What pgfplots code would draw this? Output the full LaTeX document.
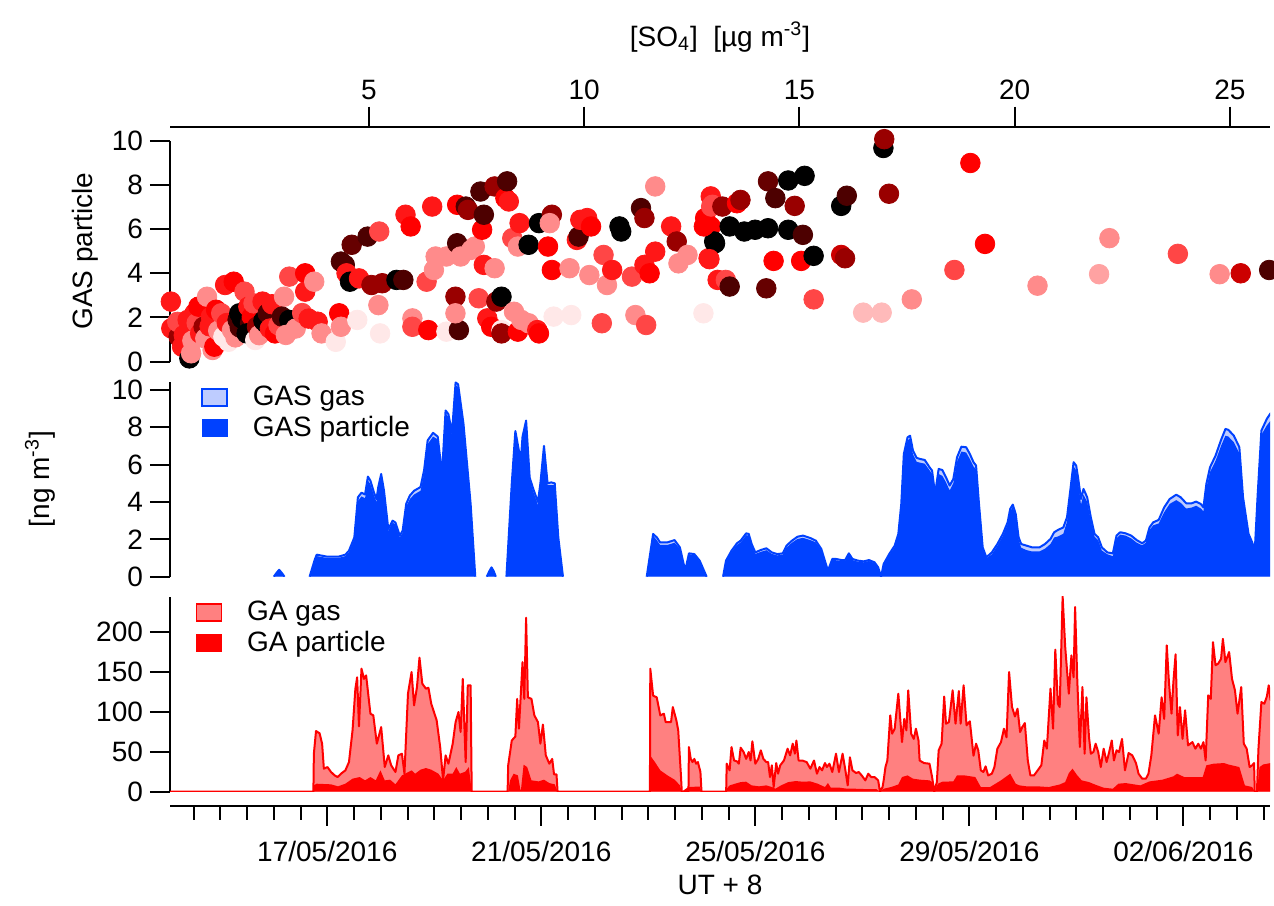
\documentclass[border=0pt]{standalone}
\usepackage{fontspec}
\setmainfont{Liberation Sans}
\usepackage{pgfplots}
\pgfplotsset{compat=1.18}
\usepackage{pgfplotstable}

\definecolor{gasblue}{RGB}{0,65,255}
\definecolor{gaslightblue}{RGB}{190,204,255}
\definecolor{galight}{RGB}{255,128,128}

\pgfplotsset{
  panel/.style={scale only axis, width=550pt, axis x line=none, axis y line*=left,
    xmin=0.06, xmax=20.62, tick align=outside, major tick length=10pt,
    every tick/.style={black, line width=1pt}, axis line style={black, line width=1pt},
    ticklabel style={font=\fontsize{14}{16}\selectfont},
    label style={font=\fontsize{14}{16}\selectfont},
    /pgf/number format/assume math mode=true},
  mylegend/.style={legend style={draw=none, fill=none, font=\fontsize{14}{16}\selectfont,
    legend cell align=left, row sep=0pt}},
  gasseg/.style={fill=gaslightblue, draw=none, forget plot},
  partseg/.style={fill=gasblue, draw=none, forget plot},
  lineseg/.style={gasblue, line width=1pt, line join=round, forget plot},
}

% ---------- GAS segments: d  total  particle ----------
\pgfplotstableread{
d t p
2.00 0 0
2.05 0.20 0.18
2.10 0.37 0.34
2.15 0.20 0.18
2.20 0 0
}\gasA
\pgfplotstableread{
d t p
2.669 0 0
2.77 0.95 0.90
2.803 1.18 1.10
3.003 1.07 1.00
3.204 1.07 1.00
3.338 1.18 1.10
3.405 1.39 1.30
3.505 2.10 2.00
3.572 4.25 4.05
3.639 4.50 4.30
3.706 4.40 4.20
3.759 5.36 5.15
3.806 5.14 4.95
3.873 4.50 4.35
3.920 4.16 4.00
3.953 4.80 4.65
4.007 5.50 5.35
4.060 4.60 4.45
4.140 2.55 2.45
4.221 3.00 2.90
4.274 2.90 2.80
4.354 2.20 2.10
4.408 2.46 2.35
4.475 3.90 3.75
4.542 4.34 4.15
4.622 4.60 4.40
4.743 4.80 4.60
4.809 5.70 5.50
4.876 7.30 7.10
4.977 7.70 7.50
5.064 7.50 7.35
5.144 5.50 5.40
5.211 8.90 8.75
5.264 8.70 8.55
5.331 7.70 7.60
5.398 10.40 10.25
5.445 10.30 10.15
5.545 8.20 8.10
5.679 3.90 3.85
5.766 0 0
}\gasB
\pgfplotstableread{
d t p
5.98 0 0
6.03 0.30 0.27
6.07 0.50 0.45
6.11 0.30 0.27
6.15 0 0
}\gasC
\pgfplotstableread{
d t p
6.348 0 0
6.448 5.00 4.90
6.515 7.80 7.70
6.616 6.20 6.10
6.649 7.50 7.40
6.716 8.36 8.25
6.783 5.30 5.20
6.850 4.70 4.55
6.937 4.00 3.85
6.983 5.00 4.85
7.050 7.00 6.90
7.117 5.00 4.90
7.184 5.05 4.90
7.251 5.00 4.90
7.318 2.10 2.05
7.405 0 0
}\gasD
\pgfplotstableread{
d t p
8.97 0 0
9.09 2.29 2.20
9.16 2.10 1.95
9.22 1.84 1.70
9.36 1.84 1.70
9.49 1.96 1.82
9.59 1.57 1.50
9.69 0.32 0.30
9.76 1.25 1.20
9.86 1.21 1.15
9.96 0.86 0.82
10.09 0 0
}\gasE
\pgfplotstableread{
d t p
10.397 0 0
10.452 0.86 0.82
10.555 1.39 1.33
10.657 1.79 1.70
10.726 1.93 1.84
10.829 2.32 2.22
10.877 2.29 2.20
10.932 1.75 1.67
11.000 1.30 1.22
11.103 1.43 1.33
11.206 1.52 1.42
11.309 1.30 1.22
11.411 1.21 1.14
11.514 1.25 1.18
11.583 1.66 1.56
11.685 1.93 1.82
11.788 2.14 2.02
11.891 2.20 2.08
12.028 2.07 1.96
12.131 1.93 1.84
12.234 1.48 1.42
12.357 0.32 0.30
12.439 0.95 0.90
12.508 0.95 0.88
12.611 0.89 0.84
12.679 0.89 0.84
12.748 1.25 1.18
12.816 0.95 0.89
12.919 0.86 0.80
13.022 0.82 0.77
13.125 0.89 0.84
13.228 0.77 0.73
13.296 0.50 0.48
13.351 0 0
13.399 0.68 0.65
13.502 1.21 1.15
13.605 1.66 1.58
13.673 2.29 2.20
13.728 3.90 3.80
13.776 6.57 6.45
13.845 7.46 7.30
13.892 7.55 7.40
13.947 6.75 6.55
14.016 6.36 6.15
14.084 6.30 6.10
14.167 6.25 6.05
14.256 5.86 5.70
14.304 5.68 5.50
14.359 4.43 4.35
14.427 5.77 5.50
14.496 5.71 5.40
14.564 5.32 5.05
14.633 4.88 4.62
14.701 5.23 5.00
14.770 6.39 6.15
14.852 6.96 6.70
14.941 6.93 6.65
15.010 6.57 6.30
15.078 6.13 5.90
15.126 5.95 5.75
15.181 3.89 3.80
15.250 1.57 1.50
15.318 1.04 0.98
15.421 1.30 1.20
15.524 1.75 1.65
15.627 2.29 2.18
15.716 2.91 2.80
15.764 3.63 3.50
15.812 3.86 3.72
15.867 3.36 3.25
15.921 2.11 2.00
15.969 1.75 1.55
16.072 1.66 1.42
16.175 1.57 1.35
16.312 1.57 1.35
16.415 1.75 1.50
16.517 2.02 1.75
16.586 2.38 2.10
16.655 2.50 2.15
16.757 2.64 2.30
16.826 3.18 2.95
16.894 4.79 4.60
16.949 6.13 5.90
16.997 5.95 5.70
17.032 5.32 5.10
17.087 4.16 3.85
17.134 4.70 4.40
17.203 4.25 4.00
17.271 3.18 3.00
17.340 2.29 2.15
17.408 2.11 1.95
17.477 1.57 1.40
17.580 1.30 1.20
17.683 1.25 1.10
17.751 2.20 2.05
17.820 2.38 2.25
17.923 2.32 2.20
18.026 2.20 2.05
18.128 1.96 1.82
18.231 1.79 1.68
18.300 1.93 1.82
18.368 2.64 2.50
18.437 2.91 2.75
18.539 3.04 2.85
18.642 3.71 3.45
18.745 4.16 3.90
18.868 4.39 4.10
18.951 4.25 3.95
19.054 3.93 3.65
19.156 3.93 3.70
19.239 4.02 3.80
19.328 3.89 3.65
19.376 3.71 3.50
19.430 4.96 4.75
19.499 5.86 5.60
19.602 6.48 6.20
19.705 7.32 7.00
19.787 7.91 7.55
19.842 7.86 7.50
19.944 7.55 7.20
20.047 6.93 6.60
20.116 4.25 4.10
20.219 2.29 2.20
20.287 1.84 1.76
20.335 1.39 1.35
20.390 4.43 4.30
20.459 7.82 7.60
20.561 8.45 8.10
20.630 8.75 8.35
20.698 8.75 8.30
}\gasF

% ---------- GA gas ----------
\pgfplotstableread{
d v
0.06 0
2.740 0
2.749 47.5
2.789 75.8
2.856 73
2.903 60
2.936 28.8
3.003 30.8
3.070 24.6
3.137 20.4
3.191 18.3
3.271 23.3
3.338 26.7
3.405 37
3.472 76.7
3.525 128.8
3.558 143
3.592 81.7
3.639 153.8
3.686 141
3.726 145.4
3.806 97.5
3.860 95.4
3.926 60
4.007 80.8
4.074 30.8
4.140 45.4
4.194 32.9
4.274 24.6
4.328 45.4
4.395 47.5
4.442 22.5
4.508 122.5
4.575 149.6
4.622 107.9
4.676 130.8
4.723 167.5
4.776 135
4.843 128.8
4.890 130
4.943 110
5.044 89.2
5.110 55.8
5.164 14.2
5.211 45.4
5.264 35
5.344 60
5.398 87
5.452 99.6
5.492 74.6
5.532 141
5.586 37
5.626 132.9
5.679 132.9
5.699 0
6.370 0
6.381 32.9
6.448 64
6.515 69
6.549 116
6.582 78.8
6.649 162
6.682 116
6.716 217.5
6.749 118
6.816 116
6.870 95.4
6.937 87
6.983 60
7.030 84
7.084 45.4
7.150 35
7.204 41
7.238 21.7
7.284 21.7
7.304 0
9.030 0
9.037 153.75
9.090 120
9.157 118
9.224 95.4
9.291 97.5
9.324 87
9.425 87
9.458 105.8
9.525 89
9.559 76.7
9.612 18
9.625 0
9.750 0
9.759 55.8
9.793 41
9.826 37
9.860 41
9.893 35
9.927 37
9.974 24.6
9.994 0
10.455 0
10.465 35
10.520 26.7
10.555 55.8
10.603 39
10.657 37.9
10.692 35
10.726 55
10.781 49.6
10.829 41
10.877 49.6
10.911 39
10.945 63
11.000 35
11.055 41
11.103 51.7
11.151 41
11.206 37
11.240 37
11.274 18.3
11.309 33
11.343 5.8
11.391 35.8
11.425 22.5
11.466 33
11.535 39
11.603 53.75
11.651 45.4
11.699 60
11.740 47.5
11.768 64
11.809 39
11.877 39
11.960 37
12.028 28.75
12.097 39
12.152 22.5
12.200 30.8
12.248 26.7
12.302 35.8
12.337 30.8
12.385 35
12.439 24.6
12.508 47.5
12.563 24.6
12.631 47.5
12.679 28.75
12.727 7.9
12.768 43
12.816 26.7
12.885 23.3
12.933 24.6
12.988 20.4
13.056 14.2
13.111 22.5
13.166 18.3
13.228 18.3
13.296 14.2
13.330 0
13.378 5.8
13.399 14.2
13.433 31
13.468 39
13.522 95.4
13.557 72.5
13.605 78.75
13.673 122.5
13.742 62
13.783 91
13.824 76.7
13.858 126.7
13.913 72.5
13.961 66
14.002 78.75
14.050 64
14.071 39
14.153 35.8
14.256 35
14.304 18.3
14.345 0
14.393 12
14.427 51.7
14.482 60
14.530 119
14.564 85
14.619 87
14.688 126.7
14.742 85
14.804 125.8
14.838 85
14.893 133
14.948 83
15.010 88
15.078 45
15.126 60
15.167 51.7
15.215 26.7
15.263 24.6
15.304 31.7
15.352 20.4
15.421 22.5
15.469 30.8
15.524 53.75
15.592 62
15.647 78.75
15.695 68
15.743 149.6
15.798 105.8
15.853 94
15.901 103.75
15.949 74.6
15.990 80.8
16.038 85.8
16.093 39
16.141 20.4
16.209 20.4
16.278 26.7
16.346 33
16.401 64
16.449 53.75
16.517 128.75
16.565 78.75
16.607 177.5
16.655 110
16.689 105.8
16.744 244
16.792 181
16.860 122.5
16.908 170.4
16.949 143
16.977 230.8
17.018 139
17.066 55.8
17.114 130.8
17.155 47.5
17.189 118
17.237 68
17.271 47.5
17.319 49.6
17.361 60
17.409 49.6
17.457 30.8
17.511 53.75
17.566 37
17.614 49.6
17.662 64
17.703 39
17.751 51.7
17.799 49.6
17.854 66
17.909 26.7
17.977 48.3
18.046 45.4
18.115 35.8
18.163 22.5
18.231 16.25
18.300 16.25
18.348 22.5
18.402 45.4
18.471 95.4
18.539 72.5
18.594 118
18.642 91
18.690 183
18.731 137
18.779 97.5
18.814 137
18.855 171.7
18.896 70.4
18.937 105.8
18.985 66
19.033 101.7
19.088 57.9
19.170 62
19.225 53.75
19.280 60
19.328 53.75
19.376 62
19.417 39
19.465 120.4
19.513 116
19.554 187
19.602 158
19.650 160
19.705 166
19.739 191
19.787 162
19.856 174.6
19.910 141
19.965 126.7
20.013 97.5
20.082 130.8
20.130 60
20.184 53.75
20.239 30.8
20.287 33
20.322 35.8
20.335 0
20.376 0
20.404 53.75
20.459 112
20.514 110
20.561 119
20.596 133
20.630 114.6
20.664 123
20.700 123
}\gagas

% ---------- GA particle ----------
\pgfplotstableread{
d v
0.06 0
2.740 0
2.749 7.9
2.80 10
3.07 9.2
3.20 6.7
3.338 10
3.472 16.3
3.606 18.3
3.706 14.2
3.806 18.3
3.906 14.2
3.993 26.7
4.074 14.2
4.174 15
4.274 9.2
4.395 20.4
4.475 23.3
4.575 26.7
4.642 22.5
4.743 27.5
4.843 29.6
4.943 27.5
5.077 22.5
5.164 14.2
5.244 22.5
5.344 22.5
5.411 30.8
5.478 22.5
5.579 25
5.646 30.8
5.699 0
6.381 0
6.415 14
6.482 22.5
6.562 20.4
6.616 0
6.669 33.75
6.736 30.8
6.816 14.2
6.950 12.9
7.050 15
7.150 10.8
7.251 9.2
7.304 0
9.030 0
9.037 45
9.124 37
9.224 26.7
9.358 20.4
9.492 15
9.592 7.9
9.625 0
9.746 5.8
9.960 6.5
9.994 0
10.455 0
10.465 3.75
10.520 7.9
10.623 10
10.726 12
10.829 12.5
10.932 7.9
11.069 6.7
11.206 7.9
11.309 5.8
11.377 3.75
11.480 7.9
11.617 12
11.754 13.3
11.891 12.5
12.028 12.9
12.165 10
12.302 5.8
12.357 10.8
12.412 5
12.577 5
12.714 3.75
12.851 3.75
13.056 3.3
13.262 3.3
13.330 0
13.399 3.75
13.536 5.8
13.673 9
13.742 18.3
13.845 20.4
13.947 16.3
14.084 15
14.256 14.2
14.304 12
14.345 0
14.413 10
14.496 12.5
14.701 12.9
14.770 20.4
14.907 20.4
15.112 18.3
15.215 5.8
15.387 5.8
15.592 14.2
15.764 22.5
15.867 10
15.935 7.9
16.072 6.7
16.278 6.7
16.483 5.8
16.689 9
16.792 12
16.860 23.3
16.929 28.75
17.018 20.4
17.100 14.2
17.237 12
17.374 8.3
17.511 5
17.683 3.75
17.786 10
17.923 10.8
18.197 7.9
18.368 12.9
18.608 15
18.814 19.2
18.882 22.5
19.019 18.3
19.191 18.3
19.362 18.3
19.430 33
19.568 35
19.760 35.8
19.842 34
20.047 30.8
20.150 7.9
20.287 5.8
20.335 0
20.376 0
20.424 30.8
20.493 34
20.630 35.8
20.700 35.8
}\gapart

% ---------- scatter: SO4, GAS particle, colour ----------
\pgfplotstableread{
s v c
0.40 2.72 0.45
0.41 1.51 0.45
0.58 1.13 0.7
0.55 1.80 0.35
0.66 0.68 0.45
0.70 1.20 0.45
0.83 0.15 1
0.87 0.38 0.2
0.90 0.95 0.2
0.79 1.89 0.45
0.95 2.19 0.45
1.00 1.75 0.35
1.04 2.49 0.5
1.08 1.28 0.45
1.16 1.58 0.7
1.20 1.05 0.2
1.24 2.94 0.2
1.33 2.04 0.45
1.30 1.60 0.45
1.37 0.53 0.2
1.41 0.68 0.5
1.45 2.35 0.5
1.50 1.40 0.2
1.57 2.19 0.35
1.66 3.47 0.45
1.86 3.62 0.5
1.62 1.13 0
1.70 1.75 0.45
1.74 0.90 0
1.82 1.43 0.2
1.90 1.10 0.2
1.95 1.89 0.85
1.99 2.19 1
2.00 1.55 0.85
2.05 1.95 1
2.11 3.17 0.35
2.20 2.49 0.45
2.24 1.74 0.85
2.28 2.04 0.5
2.32 2.64 0.35
2.16 1.28 1
2.36 0.98 0
2.40 1.58 0.7
2.45 1.20 0.2
2.53 2.72 0.45
2.55 1.85 1
2.61 1.74 1
2.65 2.19 0.85
2.70 1.50 0.45
2.75 2.60 0.45
2.82 1.28 0.5
2.90 1.65 0.35
3.03 2.94 0.2
2.98 2.04 0.85
3.15 1.89 1
3.07 1.21 0.2
3.15 3.85 0.35
3.30 1.50 0.2
3.45 2.20 0.35
3.52 4.00 0.5
3.52 3.17 0.45
3.60 1.95 0.45
3.73 3.62 0.2
3.81 1.81 0.45
3.90 1.28 0.2
4.23 0.90 0
4.31 2.19 0.5
4.35 1.58 0.2
4.35 4.53 0.85
4.44 4.38 0.85
4.48 4.00 0.45
4.56 3.62 1
4.60 5.29 0.8
4.73 1.89 0
4.77 3.77 0.45
4.97 5.66 0.85
5.06 3.47 0.7
5.22 2.56 0.2
5.24 5.89 0.35
5.26 1.28 0
5.31 3.55 0.7
5.64 3.70 1
5.80 3.70 0.85
5.85 6.65 0.45
5.97 6.12 0.5
6.01 1.96 0.2
6.01 1.58 0.35
6.34 3.62 0.35
6.38 1.43 0.5
6.47 7.02 0.45
6.51 4.15 0.2
6.55 4.76 0.2
6.80 1.36 0
6.80 4.76 0.2
7.01 2.94 0.7
7.05 5.36 0.85
7.09 1.43 0.85
7.01 2.19 0.2
7.05 7.10 0.5
7.13 4.76 0.2
7.25 7.02 0.85
7.30 6.87 0.7
7.38 5.06 0.2
7.46 5.21 0.2
7.55 2.87 0.35
7.59 7.70 0.85
7.63 5.97 0.5
7.67 6.65 0.85
7.67 4.38 0.45
7.75 1.96 0.45
7.84 1.58 0.5
7.92 7.93 0.7
7.92 4.23 0.2
7.96 2.72 0.7
8.08 2.94 1
8.08 1.43 0
8.17 7.40 0.5
8.21 8.16 0.85
8.25 7.25 0.45
8.08 1.28 0.7
8.37 2.26 0.2
8.46 1.36 0.5
8.54 1.89 0.2
8.71 1.74 0.2
8.91 1.43 0.45
8.95 1.28 0.5
8.33 5.59 0.35
8.50 6.27 0.45
8.46 5.21 0.2
8.71 5.29 1
8.95 6.27 1
9.16 5.21 0.5
9.25 6.65 0.7
9.20 6.27 0.2
9.25 4.15 0.5
9.29 2.04 0
9.70 2.11 0
9.66 4.23 0.2
9.83 5.51 0.45
9.87 5.66 0.85
9.91 6.42 0.45
10.07 6.50 0.45
10.16 6.12 0.5
10.12 3.92 0.2
10.41 1.74 0.35
10.45 4.83 0.35
10.53 3.47 0.2
10.65 4.15 0.45
10.82 6.12 1
10.86 5.89 1
11.11 3.85 0.35
11.19 2.11 0.2
11.32 6.95 0.85
11.40 6.50 0.7
11.40 4.38 0.45
11.44 1.66 0.35
11.52 4.00 0.5
11.65 7.93 0.2
11.65 4.98 0.45
12.02 6.12 0.45
12.15 5.44 0.7
12.19 4.45 0.2
12.40 4.83 0.2
12.77 2.19 0
12.89 4.68 0.45
12.94 7.48 0.45
12.98 7.10 0.35
12.81 6.50 0.5
12.94 6.12 0.5
13.02 5.44 1
13.10 3.70 0.45
12.95 7.02 0.35
13.21 7.02 0.7
13.55 7.17 0.5
13.63 7.32 0.7
12.78 6.12 0.5
13.04 5.36 1
13.38 6.12 1
13.72 5.89 1
13.97 5.97 1
14.27 6.04 1
14.74 5.97 1
15.08 5.74 0.85
14.27 8.16 0.8
14.44 7.40 0.85
14.74 8.20 1
15.12 8.41 1
14.89 7.05 0.7
12.91 4.64 0.45
13.29 3.70 0.35
13.38 3.40 0.85
14.23 3.32 0.8
14.40 4.56 0.5
15.04 4.56 0.5
15.33 4.79 1
15.33 2.82 0.35
15.97 7.05 1
16.10 7.51 0.85
15.97 4.83 0.6
16.06 4.68 0.7
16.48 2.22 0.1
16.91 2.22 0.1
16.95 9.67 1
16.97 10.07 0.7
17.08 7.60 0.7
17.61 2.82 0.2
18.60 4.15 0.35
18.97 8.99 0.5
19.31 5.33 0.5
20.53 3.44 0.2
21.96 3.96 0.15
22.20 5.59 0.2
23.79 4.88 0.35
24.76 3.96 0.2
25.25 4.00 0.6
25.91 4.15 0.85
}\scat

\begin{document}
\begin{tikzpicture}
\useasboundingbox (0,0) rectangle (637pt,452.5pt);

% ---- top SO4 axis ----
\begin{axis}[scale only axis, width=550pt, height=1pt, at={(85pt,388.15pt)}, anchor=south west,
  xmin=0.38, xmax=25.93, ymin=0, ymax=1, ytick=\empty,
  axis y line=none, axis x line*=top, xtick={5,10,15,20,25},
  tick align=outside, major tick length=10pt,
  every tick/.style={black, line width=1pt}, axis line style={black, line width=1pt},
  ticklabel style={font=\fontsize{14}{16}\selectfont},
  /pgf/number format/assume math mode=true,
  xlabel={[SO\textsubscript{4}]\ \ [µg m\textsuperscript{-3}]},
  xlabel style={font=\fontsize{14}{16}\selectfont, at={(axis description cs:0.5,1)}, anchor=center, yshift=44.85pt}]
\end{axis}

% ---- scatter panel ----
\begin{axis}[panel, at={(85pt,271.65pt)}, anchor=south west, height=110.5pt,
  xmin=0.38, xmax=25.93, ymin=0, ymax=10, ytick={0,2,...,10}, clip=false,
  ylabel={GAS particle}, ylabel style={at={(axis description cs:-0.0773,0.5)}, anchor=center},
  colormap={redblk}{rgb255=(255,232,232) rgb255=(255,0,0) rgb255=(0,0,0)},
  point meta min=0, point meta max=1]
\addplot[scatter, only marks, mark=*, mark size=4.9pt, scatter src=explicit,
  scatter/use mapped color={draw=mapped color, fill=mapped color}]
  table[x=s, y=v, meta=c]{\scat};
\end{axis}

% ---- GAS panel ----
\begin{axis}[panel, mylegend, at={(85pt,164.15pt)}, anchor=south west, height=97.5pt,
  ymin=0, ymax=10.44, ytick={0,2,...,10},
  ylabel={[ng m\textsuperscript{-3}]}, ylabel style={at={(axis description cs:-0.1182,0.5)}, anchor=center},
  legend style={at={(axis description cs:0.0227,1.0)}, anchor=north west, yshift=2pt}]
\addlegendimage{legend image code/.code={\draw[fill=gaslightblue,draw=gasblue,line width=0.8pt] (0pt,-4.2pt) rectangle (12.5pt,4.2pt); \path[draw=none,fill=none] (0pt,0pt) rectangle (23.3pt,0.1pt);}}
\addlegendentry{GAS gas}
\addlegendimage{legend image code/.code={\fill[gasblue] (0pt,-4.2pt) rectangle (12.5pt,4.2pt); \path[draw=none,fill=none] (0pt,0pt) rectangle (23.3pt,0.1pt);}}
\addlegendentry{GAS particle}
\addplot[gasseg] table[x=d,y=t]{\gasA} \closedcycle;
\addplot[partseg] table[x=d,y=p]{\gasA} \closedcycle;
\addplot[lineseg] table[x=d,y=t]{\gasA};
\addplot[gasseg] table[x=d,y=t]{\gasB} \closedcycle;
\addplot[partseg] table[x=d,y=p]{\gasB} \closedcycle;
\addplot[lineseg] table[x=d,y=t]{\gasB};
\addplot[gasseg] table[x=d,y=t]{\gasC} \closedcycle;
\addplot[partseg] table[x=d,y=p]{\gasC} \closedcycle;
\addplot[lineseg] table[x=d,y=t]{\gasC};
\addplot[gasseg] table[x=d,y=t]{\gasD} \closedcycle;
\addplot[partseg] table[x=d,y=p]{\gasD} \closedcycle;
\addplot[lineseg] table[x=d,y=t]{\gasD};
\addplot[gasseg] table[x=d,y=t]{\gasE} \closedcycle;
\addplot[partseg] table[x=d,y=p]{\gasE} \closedcycle;
\addplot[lineseg] table[x=d,y=t]{\gasE};
\addplot[gasseg] table[x=d,y=t]{\gasF} \closedcycle;
\addplot[partseg] table[x=d,y=p]{\gasF} \closedcycle;
\addplot[lineseg] table[x=d,y=t]{\gasF};
\end{axis}

% ---- GA panel ----
\begin{axis}[panel, mylegend, at={(85pt,56.65pt)}, anchor=south west, height=97.5pt,
  ymin=0, ymax=243.75, ytick={0,50,...,200},
  legend style={at={(axis description cs:0.0176,1.0)}, anchor=north west, yshift=2pt}]
\addlegendimage{legend image code/.code={\draw[fill=galight,draw=red,line width=0.8pt] (0pt,-4.2pt) rectangle (12.5pt,4.2pt); \path[draw=none,fill=none] (0pt,0pt) rectangle (23.3pt,0.1pt);}}
\addlegendentry{GA gas}
\addlegendimage{legend image code/.code={\fill[red] (0pt,-4.2pt) rectangle (12.5pt,4.2pt); \path[draw=none,fill=none] (0pt,0pt) rectangle (23.3pt,0.1pt);}}
\addlegendentry{GA particle}
\addplot[forget plot, fill=galight, draw=none] table[x=d,y=v]{\gagas} \closedcycle;
\addplot[forget plot, fill=red, draw=none] table[x=d,y=v]{\gapart} \closedcycle;
\addplot[forget plot, red, line width=1pt, line join=round] table[x=d,y=v]{\gagas};
\end{axis}

% ---- date axis ----
\begin{axis}[scale only axis, width=550pt, height=1pt, at={(85pt,49.65pt)}, anchor=south west,
  xmin=0.06, xmax=20.62, ymin=0, ymax=1, ytick=\empty,
  axis y line=none, axis x line*=bottom,
  xtick={3,7,11,15,19}, xticklabels={17/05/2016,21/05/2016,25/05/2016,29/05/2016,02/06/2016},
  minor xtick={0.5,1,...,20.5},
  tick align=outside, major tick length=10pt, minor tick length=7pt,
  every tick/.style={black, line width=1pt}, axis line style={black, line width=1pt},
  ticklabel style={font=\fontsize{14}{16}\selectfont},
  xticklabel style={yshift=-4pt},
  xlabel={UT + 8},
  xlabel style={font=\fontsize{14}{16}\selectfont, at={(axis description cs:0.5,0)}, anchor=center, yshift=-39.65pt}]
\end{axis}
\end{tikzpicture}
\end{document}
